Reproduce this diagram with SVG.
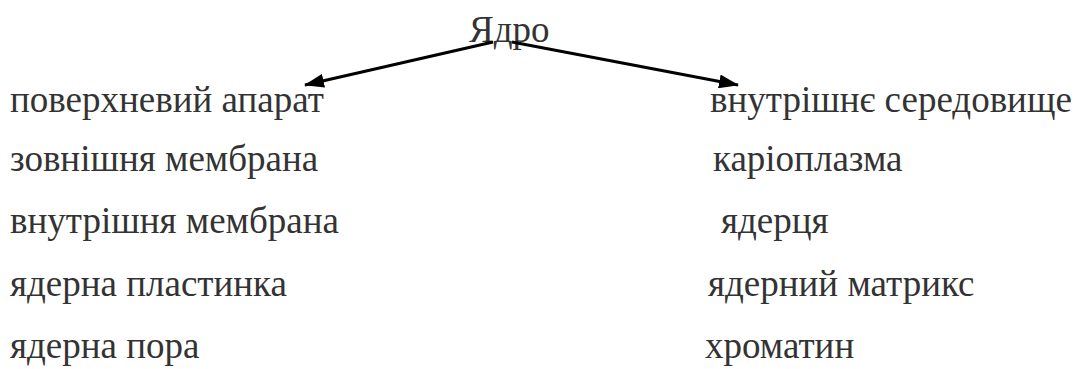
<svg xmlns="http://www.w3.org/2000/svg" width="1078" height="369" viewBox="0 0 1078 369">
  <style>
    .c { stroke: #000000; stroke-width: 3; fill: none; }
  </style>
  <defs>
    <marker id="arrow" viewBox="0 0 20 14" refX="19" refY="7" markerWidth="20" markerHeight="14" markerUnits="userSpaceOnUse" orient="auto">
      <path d="M0,0 L20,7 L0,14 Z" fill="#000000"/>
    </marker>
  </defs>
  <rect width="1078" height="369" fill="#ffffff"/>

  <g font-family="Liberation Serif, Times New Roman, serif" font-size="37" fill="#333333">
    <g id="node-root"><text x="469" y="42">Ядро</text></g>

    <g id="node-surface">
      <text x="10" y="112">поверхневий апарат</text>
      <text x="10" y="171">зовнішня мембрана</text>
      <text x="10" y="233">внутрішня мембрана</text>
      <text x="10" y="296">ядерна пластинка</text>
      <text x="10" y="358">ядерна пора</text>
    </g>

    <g id="node-inner">
      <text x="710" y="112">внутрішнє середовище</text>
      <text x="713" y="171">каріоплазма</text>
      <text x="721" y="233">ядерця</text>
      <text x="708" y="296">ядерний матрикс</text>
      <text x="705" y="358">хроматин</text>
    </g>
  </g>

  <g id="connectors">
    <line class="c" x1="493" y1="42" x2="305" y2="85" marker-end="url(#arrow)"/>
    <line class="c" x1="512" y1="42" x2="738" y2="85" marker-end="url(#arrow)"/>
  </g>
</svg>
